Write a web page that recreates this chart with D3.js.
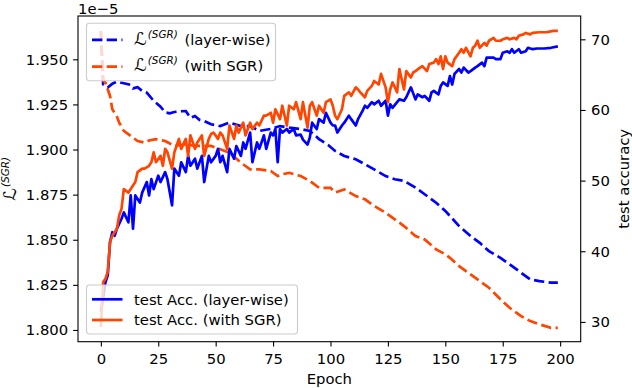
<!DOCTYPE html>
<html>
<head>
<meta charset="utf-8">
<script src="https://cdn.jsdelivr.net/npm/d3@7"></script>
<style>
  body { margin: 0; background: #fff; }
  svg text { font-family: "DejaVu Sans", sans-serif; white-space: pre; }
</style>
</head>
<body>
<div id="chart"></div>
<script>
// ---- data: [epoch, value] ----
// loss values are in units of 1e-5 (offset text on the left axis)
var lossLayerwise = [[0,1.9657],[1,1.9361],[3,1.9343],[5,1.9365],[7,1.9376],[10,1.9367],[13,1.9358],[14,1.9339],
  [16,1.9345],[18,1.9325],[20,1.9315],[23,1.9270],[26,1.9237],[28,1.9206],[30,1.9201],[32,1.9208],[35,1.9212],
  [37,1.9213],[39,1.9175],[41,1.9186],[43,1.9164],[45,1.9158],[48,1.9140],[50,1.9135],[52,1.9130],[56,1.9149],
  [61,1.9130],[65,1.9130],[69,1.9103],[74,1.9114],[78,1.9130],[82,1.9121],[87,1.9114],[91,1.9103],[95,1.9058],
  [99,1.9025],[102,1.8992],[106,1.8964],[111,1.8946],[115,1.8918],[119,1.8890],[124,1.8853],[128,1.8835],
  [132,1.8826],[137,1.8789],[141,1.8752],[146,1.8705],[150,1.8660],[152,1.8632],[156,1.8576],[161,1.8521],
  [165,1.8483],[169,1.8437],[174,1.8400],[178,1.8364],[183,1.8317],[187,1.8280],[191,1.8271],[196,1.8262],[199,1.8262]];

var lossSGR = [[0,1.9657],[1,1.9385],[2,1.9370],[4,1.9297],[5,1.9223],[7,1.9182],[8,1.9149],[10,1.9103],[13,1.9075],
  [16,1.9047],[19,1.9038],[21,1.9050],[24,1.9057],[28,1.9047],[32,1.9020],[37,1.9029],[41,1.9020],[45,1.9020],
  [48,1.9020],[52,1.9001],[56,1.8982],[61,1.8927],[65,1.8890],[69,1.8890],[74,1.8881],[77,1.8853],[79,1.8863],
  [82,1.8871],[87,1.8853],[91,1.8826],[95,1.8788],[100,1.8788],[102,1.8761],[106,1.8779],[111,1.8742],[115,1.8724],
  [119,1.8687],[124,1.8650],[128,1.8613],[132,1.8576],[137,1.8521],[141,1.8502],[146,1.8447],[150,1.8419],
  [152,1.8400],[156,1.8354],[161,1.8308],[165,1.8271],[169,1.8234],[174,1.8170],[178,1.8123],[183,1.8077],
  [187,1.8049],[191,1.8031],[196,1.8012],[199,1.8012]];

var accLayerwise = [[0,31.4],[2,35.6],[3,36.6],[4,41.3],[5,42.7],[6,42.2],[7,43.2],[9,44.6],[10,45.5],[12,44.1],
  [13,47.9],[14,43.2],[15,47.9],[17,46.9],[18,48.3],[20,49.8],[21,47.9],[22,50.2],[23,48.8],[25,50.7],[26,49.8],
  [28,51.2],[29,50.2],[31,46.5],[32,51.7],[34,50.7],[35,52.6],[37,51.2],[38,53.5],[39,52.1],[41,53.1],[42,51.7],
  [44,53.5],[45,49.8],[47,53.5],[48,52.6],[50,53.5],[51,54.5],[52,52.6],[53,53.5],[55,51.2],[56,54.5],[58,53.1],
  [59,54.9],[61,53.5],[62,55.4],[63,54.5],[65,56.8],[66,52.6],[68,55.4],[69,54.5],[71,56.4],[72,54.5],[74,56.8],
  [75,56.4],[76,57.3],[77,52.6],[78,57.3],[79,56.8],[81,57.3],[82,56.8],[84,57.3],[85,56.4],[87,56.5],[88,55.8],
  [90,55.1],[91,56.1],[92,58.2],[94,57.3],[95,58.7],[97,58.2],[98,59.6],[100,58.2],[101,57.8],[102,57.8],
  [103,56.8],[105,57.8],[106,58.2],[108,59.2],[109,58.7],[111,57.8],[112,58.7],[114,59.9],[115,60.6],[116,60.3],
  [118,61.1],[119,60.8],[121,61.3],[122,60.6],[124,61.3],[125,59.2],[126,60.8],[127,60.3],[129,61.1],[130,61.5],
  [132,61.3],[133,61.8],[134,62.5],[135,63.2],[137,61.5],[138,62.2],[140,61.8],[141,62.0],[143,61.3],[144,62.5],
  [145,62.7],[147,62.2],[148,63.4],[149,63.9],[151,63.4],[152,64.8],[153,63.6],[154,65.1],[156,65.8],[157,65.3],
  [158,66.0],[160,65.3],[161,65.5],[163,66.0],[164,66.2],[166,66.7],[167,66.2],[168,67.4],[169,67.4],[171,67.4],
  [172,67.2],[174,67.2],[175,68.1],[177,68.3],[178,68.1],[179,68.6],[180,68.1],[182,68.6],[183,68.1],[185,68.3],
  [186,68.8],[188,68.6],[190,68.7],[193,68.7],[196,68.8],[199,69.0]];

var accSGR = [[0,29.3],[1,35.6],[2,36.1],[3,37.1],[4,41.3],[5,42.2],[7,43.2],[8,45.1],[9,46.0],[10,48.8],[12,48.3],
  [13,48.8],[15,49.8],[16,51.2],[18,51.7],[19,51.7],[21,52.1],[22,52.6],[23,54.0],[24,52.6],[26,53.5],[27,52.1],
  [28,54.5],[29,54.0],[31,51.7],[32,54.0],[34,55.9],[35,54.5],[37,55.9],[38,53.5],[39,56.4],[41,54.5],[42,55.4],
  [44,56.4],[45,53.5],[47,55.9],[48,56.6],[49,56.8],[50,56.4],[51,55.9],[52,56.8],[53,56.4],[55,54.5],[56,57.8],
  [58,55.9],[59,57.8],[60,56.8],[62,58.2],[63,56.4],[65,58.2],[66,57.3],[68,58.2],[69,57.8],[71,59.2],[72,59.2],
  [74,59.6],[75,58.2],[76,60.1],[78,58.7],[79,60.6],[81,57.8],[82,60.6],[84,60.1],[85,61.1],[87,58.7],[88,61.1],
  [90,57.5],[91,60.6],[92,61.1],[94,59.2],[95,60.6],[97,59.6],[98,61.1],[100,61.5],[101,60.6],[102,59.2],
  [103,58.7],[105,60.1],[106,62.0],[108,62.5],[109,62.0],[111,63.2],[112,62.9],[113,62.5],[115,61.8],[116,62.7],
  [118,63.4],[119,64.1],[121,63.6],[122,65.1],[124,63.2],[125,61.1],[126,62.9],[127,63.9],[129,62.5],[130,65.8],
  [132,62.9],[133,65.5],[135,64.6],[136,65.3],[137,65.5],[139,66.0],[140,66.2],[142,65.5],[143,66.5],[145,66.7],
  [146,67.2],[147,66.5],[148,67.6],[149,65.8],[150,67.6],[151,66.7],[153,66.2],[154,67.2],[156,68.1],[157,68.6],
  [158,68.1],[159,68.8],[161,67.6],[162,68.8],[163,69.1],[164,69.8],[165,68.8],[167,69.5],[168,69.1],[169,69.8],
  [171,70.2],[172,69.8],[174,69.8],[175,70.0],[177,70.2],[178,70.0],[180,70.2],[181,70.0],[182,70.5],[184,70.7],
  [185,70.9],[187,70.7],[188,70.9],[191,71.0],[194,71.0],[197,71.2],[199,71.2]];

var epochTicks = [0, 25, 50, 75, 100, 125, 150, 175, 200];
var lossTicks = [1.800, 1.825, 1.850, 1.875, 1.900, 1.925, 1.950];
var accTicks = [30, 40, 50, 60, 70];

var colors = { layer: "#0000ff", sgr: "#ff4500" };
var FS = 14.8;

// ---- layout ----
var W = 632, H = 388;
var margin = { top: 16, right: 51.3, bottom: 46.3, left: 78 };
var width = W - margin.left - margin.right;
var height = H - margin.top - margin.bottom;

var svg = d3.select("#chart").append("svg")
  .attr("width", W)
  .attr("height", H);

var g = svg.append("g")
  .attr("transform", "translate(" + margin.left + "," + margin.top + ")");

g.append("clipPath").attr("id", "plotclip")
  .append("rect").attr("width", width).attr("height", height);

var x = d3.scaleLinear().domain([-9.95, 208.95]).range([0, width]);
var yLoss = d3.scaleLinear().domain([1.7935, 1.974]).range([height, 0]);
var yAcc = d3.scaleLinear().domain([27.2, 73.3]).range([height, 0]);

var lineLoss = d3.line().x(function (d) { return x(d[0]); }).y(function (d) { return yLoss(d[1]); });
var lineAcc = d3.line().x(function (d) { return x(d[0]); }).y(function (d) { return yAcc(d[1]); });

// script L with superscript (SGR), used in legend and y label
function mathL(t) {
  t.append("tspan").attr("font-size", FS * 1.2).text("\u2112");
  t.append("tspan").attr("dy", -7).attr("dx", 1).attr("font-size", FS * 0.7).attr("font-style", "italic").text("(SGR)");
}

// loss curves (left axis)
var lossG = g.append("g").attr("clip-path", "url(#plotclip)");
[[lossLayerwise, colors.layer], [lossSGR, colors.sgr]].forEach(function (s) {
  lossG.append("path")
    .datum(s[0])
    .attr("d", lineLoss)
    .attr("fill", "none")
    .attr("stroke", s[1])
    .attr("stroke-width", 2.7)
    .attr("stroke-dasharray", "10.3,4.4");
});

// legend helper
function drawLegend(bx, by, bw, bh, rows) {
  var lg = g.append("g");
  lg.append("rect")
    .attr("x", bx).attr("y", by).attr("width", bw).attr("height", bh)
    .attr("rx", 2.9)
    .attr("fill", "#fff").attr("fill-opacity", 0.8)
    .attr("stroke", "#cccccc").attr("stroke-width", 1.1);
  rows.forEach(function (r) {
    lg.append("line")
      .attr("x1", 14).attr("x2", 44.5)
      .attr("y1", r.y).attr("y2", r.y)
      .attr("stroke", r.color).attr("stroke-width", 2.7)
      .attr("stroke-dasharray", r.dashed ? "10.3,4.4" : null);
    var t = lg.append("text").attr("x", 56).attr("y", r.y + r.dy).attr("font-size", FS);
    if (r.math) {
      mathL(t);
      t.append("tspan").attr("dy", 7).attr("dx", 2).attr("font-size", FS).text(" " + r.label);
    } else {
      t.text(r.label);
    }
  });
}

drawLegend(8.5, 7.3, 189, 57.4, [
  { y: 23.8, dy: 5.2, color: colors.layer, dashed: true, math: true, label: "(layer-wise)" },
  { y: 50.7, dy: 4.3, color: colors.sgr, dashed: true, math: true, label: "(with SGR)" }
]);

// accuracy curves (right axis), drawn above the first legend
var accG = g.append("g").attr("clip-path", "url(#plotclip)");
[[accLayerwise, colors.layer], [accSGR, colors.sgr]].forEach(function (s) {
  accG.append("path")
    .datum(s[0])
    .attr("d", lineAcc)
    .attr("fill", "none")
    .attr("stroke", s[1])
    .attr("stroke-width", 2.7)
    .attr("stroke-linejoin", "round");
});

drawLegend(8.5, 269, 211, 49, [
  { y: 283.3, dy: 5.3, color: colors.layer, dashed: false, label: "test Acc. (layer-wise)" },
  { y: 304, dy: 5.3, color: colors.sgr, dashed: false, label: "test Acc. (with SGR)" }
]);

// axes
function styleAxis(sel) {
  sel.select(".domain").remove();
  sel.selectAll("line").attr("stroke", "#000").attr("stroke-width", 1.1);
  sel.selectAll("text").attr("font-size", FS).attr("font-family", "DejaVu Sans").attr("fill", "#000");
}

g.append("g")
  .attr("transform", "translate(0," + height + ")")
  .call(d3.axisBottom(x).tickValues(epochTicks).tickFormat(d3.format("d")).tickSize(4.9).tickPadding(7))
  .call(styleAxis);

g.append("g")
  .call(d3.axisLeft(yLoss).tickValues(lossTicks).tickFormat(d3.format(".3f")).tickSize(4.9).tickPadding(4.9))
  .call(styleAxis);

g.append("g")
  .attr("transform", "translate(" + width + ",0)")
  .call(d3.axisRight(yAcc).tickValues(accTicks).tickFormat(d3.format("d")).tickSize(4.9).tickPadding(5.5))
  .call(styleAxis);

// frame
g.append("rect")
  .attr("width", width).attr("height", height)
  .attr("fill", "none").attr("stroke", "#000").attr("stroke-width", 1.1);

// labels
svg.append("text")
  .attr("x", margin.left).attr("y", 13.5)
  .attr("font-size", FS)
  .text("1e\u22125");

svg.append("text")
  .attr("x", margin.left + width / 2).attr("y", 384)
  .attr("text-anchor", "middle")
  .attr("font-size", FS)
  .text("Epoch");

var yl = svg.append("text")
  .attr("transform", "translate(15.5," + (margin.top + height / 2) + ") rotate(-90)")
  .attr("text-anchor", "middle")
  .attr("font-size", FS);
mathL(yl);

svg.append("text")
  .attr("transform", "translate(628.5," + (margin.top + height / 2) + ") rotate(-90)")
  .attr("text-anchor", "middle")
  .attr("font-size", FS)
  .text("test accuracy");
</script>
</body>
</html>
